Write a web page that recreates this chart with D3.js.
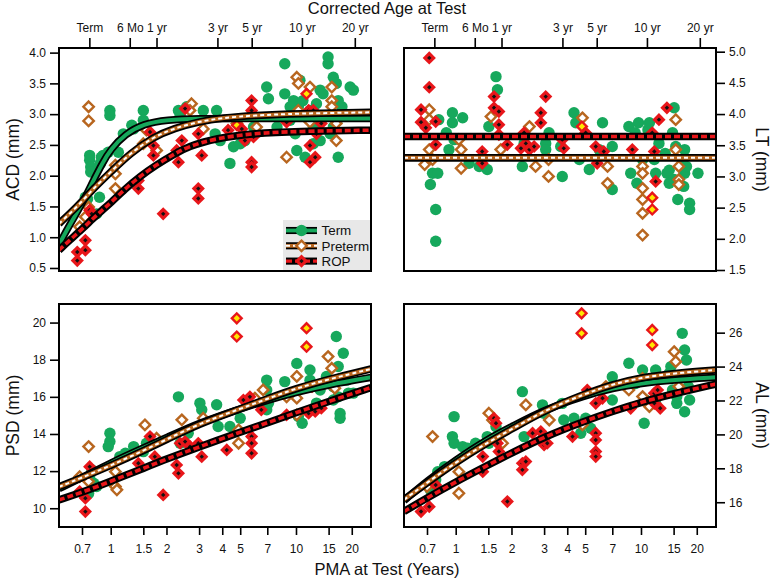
<!DOCTYPE html>
<html><head><meta charset="utf-8">
<script src="https://cdn.jsdelivr.net/npm/d3@7"></script>
<style>
body{margin:0;background:#fff}
svg{display:block}
text{font-family:"Liberation Sans",Arial,Helvetica,sans-serif}
</style>
</head><body>
<svg id="c" width="773" height="581"></svg>
<script>
// ---------------- DATA ----------------
const termPMA = 0.767; // PMA (years) at term
const topTickYears = [0, 0.5, 1, 3, 5, 10, 20];
const topTickLabels = ["Term", "6 Mo", "1 yr", "3 yr", "5 yr", "10 yr", "20 yr"];
const bottomTicks = [0.7, 1, 1.5, 2, 3, 4, 5, 7, 10, 15, 20];
const groups = ["Term", "Preterm", "ROP"];

const acdTicks = [0.5, 1.0, 1.5, 2.0, 2.5, 3.0, 3.5, 4.0];
const ltTicks = [1.5, 2.0, 2.5, 3.0, 3.5, 4.0, 4.5, 5.0];
const psdTicks = [10, 12, 14, 16, 18, 20];
const alTicks = [16, 18, 20, 22, 24, 26];

// [PMA years, value, highlight]
const acdTerm = [[0.73,1.65],[0.75,1.62],[0.77,2.33],[0.77,2.25],[0.78,2.14],[0.78,2.06],[0.84,1.38],[0.87,1.65],[0.88,2.2],[0.89,2.3],[0.91,2.33],[0.99,3.06],[0.99,2.98],[0.97,2.38],[1.1,2.38],[1.17,2.68],[1.3,2.82],[1.33,2.76],[1.5,3.06],[1.5,2.9],[2.32,3.06],[2.37,2.98],[2.57,3.12],[3.16,3.06],[3.73,3.06],[3.66,2.68],[3.9,2.57],[4.4,2.2],[4.6,2.47],[5.0,2.52],[5.3,2.57],[5.9,2.79],[6.95,3.44],[7.1,3.25],[8.7,3.82],[8.7,3.33],[9.3,2.9],[9.7,3.22],[9.9,2.68],[10.1,2.41],[10.3,3.12],[10.5,3.55],[10.9,3.22],[11.2,2.3],[11.9,3.06],[12.4,2.79],[12.9,3.17],[13.5,3.39],[14,3.33],[14.9,3.93],[14.9,3.82],[15.9,3.6],[16.5,3.5],[16.9,3.22],[16.9,2.3],[17.3,2.95],[17.7,3.12],[19.6,3.44],[20.4,3.39],[15.3,2.68],[15.9,2.79],[7.9,2.79],[9.3,3.12],[12.4,2.52],[13.5,2.57]];
const acdPreterm = [[0.76,3.12],[0.76,2.89],[0.68,1.17],[0.73,1.33],[0.76,1.49],[1.06,2.17],[1.06,2.03],[1.06,1.79],[1.5,2.52],[1.77,2.41],[1.56,2.74],[2.73,3.17],[2.68,3.06],[3.16,2.76],[4.8,2.85],[6.13,2.79],[8.9,2.3],[10.1,3.6],[10.3,3.5],[10.3,3.06],[11.9,3.44],[11.9,2.87],[15.6,3.44],[15.6,3.22],[15.6,3.12],[16.5,2.57],[16.5,2.85]];
const acdROP = [[0.66,0.76],[0.66,0.62],[0.73,0.95],[0.73,0.79],[0.77,1.44],[0.79,1.38],[1.41,1.92],[1.41,1.79],[1.63,2.71],[1.7,2.49],[1.7,2.33],[1.92,1.38],[2.27,2.41],[2.32,2.22],[2.42,2.57],[2.52,3.09],[2.97,1.79],[2.97,1.63],[2.97,2.68],[3.1,2.33],[4.3,2.74],[4.8,2.82,1],[5.1,2.76],[5.3,2.57],[5.76,3.22],[5.76,3.06],[5.76,2.22],[5.76,2.14],[5.9,2.63],[8.9,2.87],[11.4,3.33,1],[11.7,3.06],[11.9,2.49],[11.9,2.22],[12.7,2.3],[12.4,3.06],[12.9,2.68],[13.7,2.85]];

const ltTerm = [[0.73,2.87],[0.75,3.05],[0.78,2.47],[0.78,1.96],[0.8,3.05],[0.81,3.91],[0.89,3.7],[0.92,3.43],[0.96,4.02],[0.96,3.86],[0.98,3.59],[1.09,3.94],[1.18,3.21],[1.34,3.16],[1.48,3.11],[1.51,3.8],[1.65,4.6],[1.68,4.39],[2.29,3.16],[2.34,3.53],[3.06,3.53],[3.06,3.43],[3.19,3.7],[3.69,3.48],[3.76,3.0],[4.35,4.02],[4.45,3.86],[4.65,3.27],[5.26,3.11],[5.95,3.43],[6.2,3.86],[7.0,3.48],[7.0,2.79],[8.6,3.8],[8.8,3.05],[9.3,3.7],[9.7,3.86],[9.5,2.89],[10.2,3.27],[10.9,3.75],[11.1,3.86],[11.8,3.27],[12.0,3.05],[12.5,3.53],[13.5,3.37],[13.8,3.05],[14.2,2.89],[14.8,3.7],[15.1,4.1],[15.4,3.48],[15.8,2.63],[16.7,3.27],[17.0,2.84],[17.2,3.05],[17.2,3.43],[17.6,3.16],[18.3,2.57],[18.3,2.47],[20.3,3.05],[14.2,3.1],[15.1,2.95]];
const ltPreterm = [[0.68,3.19],[0.72,4.07],[0.72,3.91],[0.72,3.43],[0.75,3.27],[1.04,3.59],[1.07,3.43],[1.07,3.13],[1.55,3.96],[1.75,3.43],[2.5,3.8],[2.7,3.16],[3.17,3.27],[3.17,3.0],[4.83,3.94],[6.6,3.16],[6.6,2.89],[10.2,3.16],[10.2,3.05],[10.2,2.81],[10.2,2.63],[10.2,2.41],[10.2,2.06],[15.4,3.91],[15.4,3.43],[16.0,3.16],[16.0,2.95],[16.0,2.87]];
const ltROP = [[0.72,4.9],[0.72,4.43],[0.65,4.07],[0.65,3.87],[0.69,3.78],[0.78,3.88],[0.78,3.51],[1.39,3.4],[1.39,3.21],[1.61,4.28],[1.61,4.1],[1.71,4.04],[1.71,3.83],[1.71,3.67],[1.9,3.51],[2.25,3.45],[2.34,3.7],[2.39,3.53],[2.5,3.43],[2.65,3.48],[2.88,4.02],[2.88,3.86],[3.06,4.28],[3.76,3.59],[3.83,3.45],[4.8,3.8,1],[5.03,3.7],[5.7,3.48],[5.8,3.21],[6.3,3.4],[8.98,3.43],[11.5,3.7],[11.8,3.4],[12.0,2.92],[11.5,2.66,1],[11.5,2.47,1],[12.5,3.91],[13.8,4.1]];

const psdTerm = [[0.77,11.7],[0.79,12.07],[0.81,11.35],[0.84,11.17],[0.76,10.8],[0.99,14.04],[0.99,13.59],[0.97,13.32],[1.12,12.78],[1.2,12.96],[1.33,13.32],[1.5,13.05],[1.56,13.5],[2.32,16.0],[2.37,13.5],[2.62,14.04],[3.03,15.66],[3.1,15.3],[3.73,15.57],[3.8,14.4],[4.4,14.4],[5.0,14.85],[6.95,16.9],[6.95,16.37],[7.1,15.65],[6.95,15.3],[8.7,16.82],[10.1,17.8],[10.3,14.94],[10.8,14.58],[11.9,17.45],[11.9,16.9],[12.9,15.66],[14.6,17.1],[15.9,16.55],[16.5,19.25],[16.9,17.63],[16.9,16.0],[17.3,15.1],[17.3,14.85],[18.0,18.35],[18.8,16.9],[19.2,16.2],[20.4,16.2],[15.9,15.83],[13.5,16.37]];
const psdPreterm = [[0.68,11.7],[0.76,13.32],[0.76,11.44],[1.06,11.97],[1.06,11.17],[1.08,10.99],[1.53,14.49],[1.77,13.77],[2.42,14.76],[3.16,14.85],[4.9,13.5],[4.9,14.22],[6.0,15.93],[6.65,16.37],[8.9,16.0],[10.1,17.1],[10.1,15.93],[10.1,15.03],[14.9,18.17],[15.6,17.54],[16.2,16.46]];
const psdROP = [[0.68,10.9],[0.73,10.54],[0.73,9.82],[0.77,12.24],[1.41,12.42],[1.63,13.86],[1.73,12.78],[1.92,10.72],[2.27,12.33],[2.32,11.88],[2.37,13.5],[2.52,13.59],[2.68,13.32],[2.97,13.5],[3.1,12.78],[4.23,13.14],[4.79,20.23,1],[4.79,19.25,1],[5.2,15.83],[5.64,16.0],[5.76,13.86],[5.76,13.5],[5.76,12.96],[6.5,15.3],[8.9,15.03],[11.4,19.7,1],[11.4,18.7,1],[11.7,15.12],[12.2,16.55],[12.7,15.21],[13.7,15.39]];

const alTerm = [[0.73,16.73],[0.78,17.32],[0.8,17.8],[0.87,18.1],[0.96,19.87],[0.98,21.05],[0.98,19.48],[1.09,19.28],[1.16,19.18],[1.28,19.48],[1.48,19.87],[1.51,19.48],[1.65,20.46],[2.29,22.52],[2.34,19.87],[2.94,21.74],[2.99,21.25],[3.76,21.83],[3.83,20.85],[4.35,20.95],[4.73,20.07],[5.03,20.95],[5.35,20.36],[7.0,23.4],[6.87,22.82],[7.0,22.03],[8.6,24.2],[9.36,23.0],[10.2,23.8],[10.4,20.66],[10.6,22.03],[12.0,23.8],[12.0,21.83],[14.5,24.0],[14.8,22.62],[15.6,22.23],[16.7,25.96],[17.2,24.98],[17.6,24.39],[18.0,22.82],[18.3,22.03],[17.2,21.34],[15.6,21.83],[14.2,23.6]];
const alPreterm = [[0.75,19.87],[0.7,16.92],[1.04,17.8],[1.04,16.53],[1.51,21.25],[1.58,20.85],[1.79,19.48],[2.39,21.74],[3.2,20.85],[4.83,20.56],[6.46,22.82],[8.6,22.62],[10.2,23.3],[10.2,22.23],[11.1,21.64],[15.1,24.88],[15.4,24.29],[16.0,22.82]];
const alROP = [[0.65,15.45],[0.72,15.74],[0.78,17.02],[1.4,18.69],[1.4,17.8],[1.61,20.95],[1.65,20.66],[1.68,19.48],[1.71,18.99],[1.9,16.04],[2.29,18.3],[2.29,17.91],[2.39,18.4],[2.6,20.07],[2.88,20.17],[3.0,19.87],[3.0,19.38],[3.12,19.48],[4.27,19.87],[4.78,27.14,1],[4.78,25.96,1],[5.13,22.62],[5.7,21.83],[5.7,20.07],[5.7,19.67],[5.7,18.99],[5.7,18.69],[6.2,22.13],[8.8,21.54],[11.5,26.16,1],[11.5,25.27,1],[11.8,21.83],[11.8,22.42],[12.7,21.54],[12.3,22.62]];

// fitted curves: [PMA years, value]
const acdFitTerm = [[0.526,0.88],[0.6,1.2],[0.7,1.54],[0.8,1.9],[0.9,2.2],[1.0,2.43],[1.2,2.68],[1.5,2.84],[2,2.91],[3,2.93],[5,2.93],[10,2.93],[25.4,2.93]];
const acdFitPreterm = [[0.526,1.22],[0.6,1.38],[0.7,1.58],[0.8,1.78],[1.0,2.06],[1.27,2.36],[1.7,2.63],[2.2,2.77],[3,2.88],[4,2.94],[6,2.98],[10,3.01],[25.4,3.03]];
const acdFitROP = [[0.526,0.79],[0.6,0.95],[0.7,1.13],[0.8,1.3],[0.9,1.44],[1.0,1.56],[1.2,1.79],[1.44,1.99],[1.77,2.18],[2.2,2.35],[2.6,2.47],[3.7,2.61],[6,2.69],[10,2.72],[25.4,2.74]];
const ltFitTerm = [[0.526,3.3],[25.4,3.3]];
const ltFitPreterm = [[0.526,3.3],[25.4,3.3]];
const ltFitROP = [[0.526,3.64],[25.4,3.64]];
const psdFitTerm = [[0.526,11.05],[0.7,11.65],[1,12.45],[1.5,13.25],[2,13.8],[3,14.6],[5,15.35],[7,15.82],[10,16.25],[15,16.65],[25.4,17.05]];
const psdFitPreterm = [[0.526,11.15],[0.7,11.65],[1,12.3],[1.5,13.1],[2,13.7],[3,14.55],[5,15.35],[7,15.9],[10,16.45],[15,16.95],[25.4,17.5]];
const psdFitROP = [[0.526,10.45],[0.7,10.85],[1,11.45],[1.5,12.15],[2,12.65],[3,13.3],[5,14.1],[7,14.6],[10,15.15],[15,15.75],[25.4,16.5]];
const alFitTerm = [[0.526,16.1],[0.7,17.25],[1,18.5],[1.5,19.75],[2,20.45],[3,21.45],[5,22.3],[7,22.72],[10,23.02],[15,23.22],[25.4,23.37]];
const alFitPreterm = [[0.526,16.15],[0.7,17.15],[1,18.35],[1.5,19.55],[2,20.3],[3,21.4],[5,22.4],[7,22.95],[10,23.35],[15,23.6],[25.4,23.8]];
const alFitROP = [[0.526,15.45],[0.7,16.25],[1,17.2],[1.5,18.2],[2,18.9],[3,19.85],[5,20.8],[7,21.35],[10,21.9],[15,22.4],[25.4,22.97]];

// ---------------- DRAWING ----------------
const COL = {term:"#16a85c", pre:"#b8661f", rop:"#e8161a", yel:"#ffe800"};
const svg = d3.select("#c");
const xDom = [0.526, 25.4];

const panels = [
  {id:"acd", x0:59, x1:371, y0:48, y1:271, dom:[0.451,4.075], ticks:acdTicks, fmt:".1f", side:"left", title:"ACD (mm)", top:true, bottom:false,
   pts:[acdTerm,acdPreterm,acdROP], fits:[acdFitTerm,acdFitPreterm,acdFitROP], legend:true},
  {id:"lt", x0:404, x1:716, y0:48, y1:271, dom:[1.484,5.059], ticks:ltTicks, fmt:".1f", side:"right", title:"LT (mm)", top:true, bottom:false,
   pts:[ltTerm,ltPreterm,ltROP], fits:[ltFitTerm,ltFitPreterm,ltFitROP]},
  {id:"psd", x0:59, x1:371, y0:304, y1:527, dom:[8.99,21.0], ticks:psdTicks, fmt:"d", side:"left", title:"PSD (mm)", top:false, bottom:true,
   pts:[psdTerm,psdPreterm,psdROP], fits:[psdFitTerm,psdFitPreterm,psdFitROP]},
  {id:"al", x0:404, x1:716, y0:304, y1:527, dom:[14.54,27.69], ticks:alTicks, fmt:"d", side:"right", title:"AL (mm)", top:false, bottom:true,
   pts:[alTerm,alPreterm,alROP], fits:[alFitTerm,alFitPreterm,alFitROP]}
];

function diamond(s){ return `M0,${-s}L${s},0L0,${s}L${-s},0Z`; }

function markTerm(g){ g.append("circle").attr("r",5.7).attr("fill",COL.term); }
function markPre(g){ g.append("path").attr("d",diamond(5.2)).attr("fill","#fff").attr("stroke",COL.pre).attr("stroke-width",2.4); }
function markROP(g, hi){
  g.append("path").attr("d",diamond(6.6)).attr("fill",COL.rop);
  if(hi) g.append("path").attr("d",diamond(3.2)).attr("fill",COL.yel);
  else g.append("path").attr("d",diamond(2.2)).attr("fill","#111");
}
const markers = [markTerm, markPre, markROP];

function drawFit(g, pathD, gi, w){
  const k = w || 1;
  g.append("path").attr("d",pathD).attr("fill","none").attr("stroke","#000").attr("stroke-width",7.5*k).attr("stroke-linecap","butt");
  if(gi===0){
    g.append("path").attr("d",pathD).attr("fill","none").attr("stroke",COL.term).attr("stroke-width",4*k);
  } else if(gi===1){
    g.append("path").attr("d",pathD).attr("fill","none").attr("stroke",COL.pre).attr("stroke-width",4*k);
    g.append("path").attr("d",pathD).attr("fill","none").attr("stroke","#fff").attr("stroke-width",2*k).attr("stroke-dasharray","4,3");
  } else {
    g.append("path").attr("d",pathD).attr("fill","none").attr("stroke",COL.rop).attr("stroke-width",3.6*k).attr("stroke-dasharray","6,3");
  }
}

function styleAxis(g){
  g.select(".domain").remove();
  g.selectAll(".tick line").attr("stroke", "#000").attr("stroke-width", 1.6);
  g.selectAll(".tick text").attr("font-size", 12).attr("fill", "#111")
    .attr("font-family", '"Liberation Sans",Arial,Helvetica,sans-serif');
}

panels.forEach(p => {
  const x = d3.scaleLog().domain(xDom).range([p.x0, p.x1]);
  const y = d3.scaleLinear().domain(p.dom).range([p.y1, p.y0]);
  const cid = "clip-" + p.id;
  svg.append("clipPath").attr("id", cid).append("rect")
    .attr("x", p.x0).attr("y", p.y0).attr("width", p.x1 - p.x0).attr("height", p.y1 - p.y0);
  const plot = svg.append("g").attr("clip-path", `url(#${cid})`);

  // points
  p.pts.forEach((arr, gi) => {
    arr.forEach(d => {
      const g = plot.append("g").attr("transform", `translate(${x(d[0])},${y(d[1])})`);
      if(gi===2) markROP(g, d[2]===1); else markers[gi](g);
    });
  });

  // fit lines
  const line = d3.line().x(d => x(d[0])).y(d => y(d[1])).curve(d3.curveBasis);
  p.fits.forEach((f, gi) => drawFit(plot.append("g"), line(f), gi));

  // legend
  if(p.legend){
    const lg = svg.append("g");
    lg.append("rect").attr("x", 283).attr("y", 220).attr("width", p.x1 - 283).attr("height", p.y1 - 220).attr("fill", "#e8e8e8");
    groups.forEach((name, gi) => {
      const cy = 230.5 + gi * 15.3;
      const seg = d3.line()([[286, cy], [317, cy]]);
      drawFit(lg.append("g"), seg, gi, 0.95);
      const m = lg.append("g").attr("transform", `translate(301.5,${cy})`);
      if(gi===2) markROP(m, false); else markers[gi](m);
      lg.append("text").attr("x", 321.5).attr("y", cy).attr("dy", "0.36em").attr("font-size", 13.4).attr("fill", "#111").text(name);
    });
  }

  // frame
  svg.append("rect").attr("x", p.x0).attr("y", p.y0).attr("width", p.x1 - p.x0).attr("height", p.y1 - p.y0)
    .attr("fill", "none").attr("stroke", "#000").attr("stroke-width", 2);

  // y axis
  const yAx = (p.side === "left" ? d3.axisLeft(y) : d3.axisRight(y))
    .tickValues(p.ticks).tickSize(8).tickPadding(4).tickFormat(d3.format(p.fmt));
  styleAxis(svg.append("g").attr("transform", `translate(${p.side === "left" ? p.x0 - 1 : p.x1 + 1},0)`).call(yAx));

  // y title
  const tx = p.side === "left" ? 12.5 : 762;
  const ty = (p.y0 + p.y1) / 2;
  svg.append("text").attr("transform", `translate(${tx},${ty}) rotate(${p.side === "left" ? -90 : 90})`)
    .attr("text-anchor", "middle").attr("dy", "0.35em").attr("font-size", 17.5).attr("fill", "#111").text(p.title);

  if(p.top){
    const tAx = d3.axisTop(x).tickValues(topTickYears.map(a => a + termPMA))
      .tickFormat((d, i) => topTickLabels[i]).tickSize(9).tickPadding(6);
    styleAxis(svg.append("g").attr("transform", `translate(0,${p.y0 - 1})`).call(tAx));
  }
  if(p.bottom){
    const bAx = d3.axisBottom(x).tickValues(bottomTicks).tickFormat(d => String(d)).tickSize(7).tickPadding(9);
    styleAxis(svg.append("g").attr("transform", `translate(0,${p.y1 + 1})`).call(bAx));
  }
});

svg.append("text").attr("x", 387).attr("y", 14).attr("text-anchor", "middle").attr("font-size", 16.5).attr("fill", "#111").text("Corrected Age at Test");
svg.append("text").attr("x", 387).attr("y", 575).attr("text-anchor", "middle").attr("font-size", 16.5).attr("fill", "#111").text("PMA at Test (Years)");
</script>
</body></html>
